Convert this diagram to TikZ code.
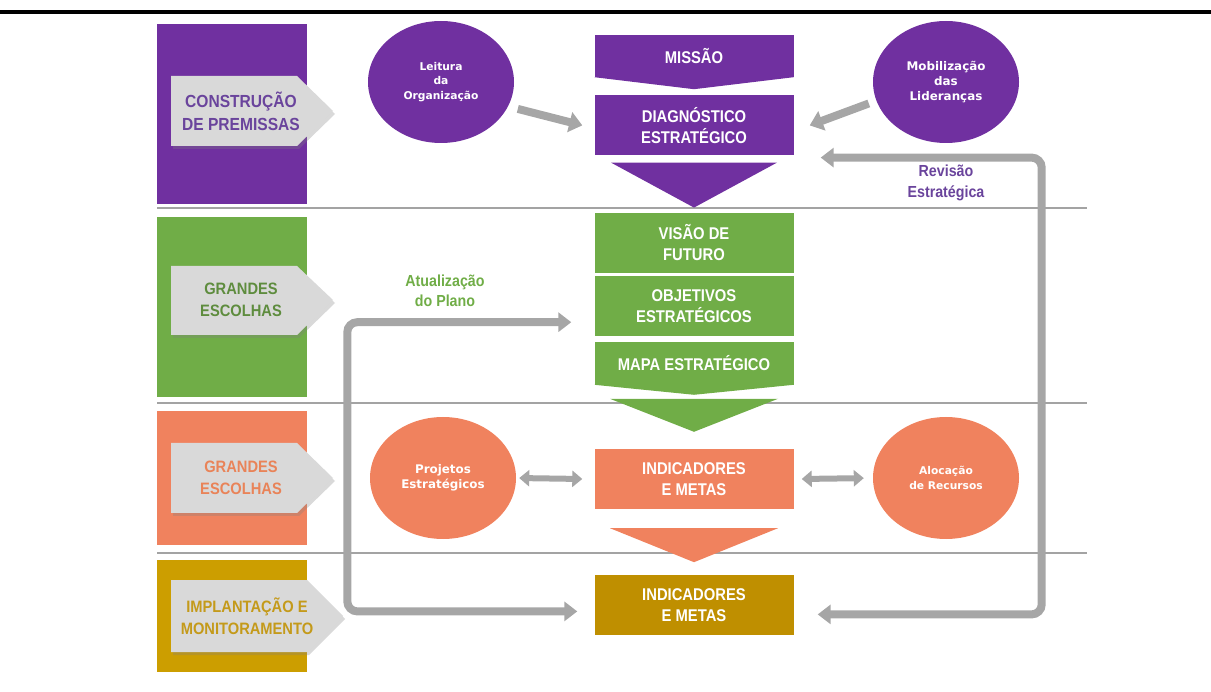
\documentclass[tikz,border=0pt]{standalone}
\usepackage{fontspec}
\setmainfont{Liberation Sans}
\newfontfamily\narrowsans[FakeStretch=0.89]{Liberation Sans}
\newfontfamily\boxsans[FakeStretch=0.87]{Liberation Sans}
\newfontfamily\roundsans{DejaVu Sans}
\usetikzlibrary{arrows.meta, positioning, shapes.geometric, shadows}

\definecolor{planpurple}{HTML}{7030A0}
\definecolor{plangreen}{HTML}{70AD47}
\definecolor{planorange}{HTML}{F0825E}
\definecolor{plangold}{HTML}{CC9E00}
\definecolor{plangolddark}{HTML}{BF8F00}
\definecolor{tagfill}{HTML}{D9D9D9}
\definecolor{loopgrey}{HTML}{A6A6A6}
\definecolor{rulegrey}{HTML}{A3A3A3}
\definecolor{purpletext}{HTML}{6A449C}
\definecolor{greentext}{HTML}{5E8C3E}
\definecolor{orangetext}{HTML}{E98358}
\definecolor{goldtext}{HTML}{C49A1A}

\tikzstyle{stage}=[inner sep=0pt, minimum width=150pt]
\tikzstyle{stepbox}=[inner sep=0pt, minimum width=199pt, minimum height=60pt, text=white, align=center, font=\boxsans\bfseries\fontsize{17}{21}\selectfont]
\tikzstyle{bubble}=[ellipse, inner sep=0pt, minimum width=146pt, minimum height=122pt, text=white, align=center, font=\roundsans\bfseries\fontsize{10.7}{14.7}\selectfont]
\tikzstyle{bigbubble}=[bubble, font=\roundsans\bfseries\fontsize{11.9}{14.7}\selectfont]
\tikzstyle{tag}=[fill=tagfill, drop shadow={shadow xshift=2pt, shadow yshift=-3pt, opacity=.3}]
\tikzstyle{tagtext}=[align=center, font=\narrowsans\bfseries\fontsize{16.5}{21.5}\selectfont]
\tikzstyle{note}=[align=center, font=\narrowsans\bfseries\fontsize{16}{20.5}\selectfont]
\tikzstyle{push}=[loopgrey, line width=8pt, -{Triangle[length=13pt,width=20pt]}]
\tikzstyle{swap}=[loopgrey, line width=6pt, {Triangle[length=10pt,width=16pt]}-{Triangle[length=10pt,width=16pt]}]
\tikzstyle{flow}=[loopgrey, line width=8pt, rounded corners=10pt, {Triangle[length=13pt,width=19pt]}-{Triangle[length=13pt,width=19pt]}]

\begin{document}
\begin{tikzpicture}[x=1pt, y=-1pt]
  \useasboundingbox (0,0) rectangle (1211,692);
  \draw[line width=4pt] (0,12) -- (1211,12);

  % separators between the stages
  \draw[rulegrey, line width=2pt] (157,208) -- (1087,208);
  \draw[rulegrey, line width=2pt] (157,403) -- (1087,403);
  \draw[rulegrey, line width=2pt] (157,553) -- (1087,553);

  % stage blocks and their tags
  \node[stage, fill=planpurple, minimum height=180pt] (premissas) at (232,114) {};
  \node[stage, fill=plangreen, minimum height=180pt] (escolhas) at (232,307) {};
  \node[stage, fill=planorange, minimum height=134pt] (desdobramento) at (232,478) {};
  \node[stage, fill=plangold, minimum height=112pt] (implantacao) at (232,616) {};
  \fill[tag] (171,76) -- (297,76) -- (333,111) -- (297,146) -- (171,146) -- cycle;
  \fill[tag] (171,266) -- (297,266) -- (333,300) -- (297,335) -- (171,335) -- cycle;
  \fill[tag] (171,443) -- (297,443) -- (333,478) -- (297,513) -- (171,513) -- cycle;
  \fill[tag] (171,580) -- (307,580) -- (343,616) -- (307,652) -- (171,652) -- cycle;
  \node[tagtext, text=purpletext, font=\narrowsans\bfseries\fontsize{17.5}{23}\selectfont] (premissastag) at (241,111) {CONSTRUÇÃO\\DE PREMISSAS};
  \node[tagtext, text=greentext] (escolhastag) at (241,300) {GRANDES\\ESCOLHAS};
  \node[tagtext, text=orangetext] (desdobramentotag) at (241,478) {GRANDES\\ESCOLHAS};
  \node[tagtext, text=goldtext] (implantacaotag) at (247,616) {IMPLANTAÇÃO E\\MONITORAMENTO};

  % central column
  \node[stepbox, fill=planpurple, minimum height=42pt] (missao) at (694,56) {MISSÃO};
  \node[stepbox, fill=planpurple, below=18pt of missao] (diagnostico) {DIAGNÓSTICO\\ESTRATÉGICO};
  \node[stepbox, fill=plangreen, below=57pt of diagnostico] (visao) {VISÃO DE\\FUTURO};
  \node[stepbox, fill=plangreen, below=3pt of visao] (objetivos) {OBJETIVOS\\ESTRATÉGICOS};
  \node[stepbox, fill=plangreen, minimum height=43pt, below=5pt of objetivos] (mapa) {MAPA ESTRATÉGICO};
  \node[stepbox, fill=planorange, below=64pt of mapa] (metas) {INDICADORES\\E METAS};
  \node[stepbox, fill=plangolddark, below=66pt of metas] (controle) {INDICADORES\\E METAS};
  \fill[planpurple] (missao.south west) -- ([yshift=-12pt]missao.south) -- (missao.south east) -- cycle;
  \fill[plangreen] (mapa.south west) -- ([yshift=-10pt]mapa.south) -- (mapa.south east) -- cycle;
  \fill[planpurple] ([xshift=-83pt,yshift=-7pt]diagnostico.south) -- ([xshift=83pt,yshift=-7pt]diagnostico.south) -- ([yshift=-52pt]diagnostico.south) -- cycle;
  \fill[plangreen] ([xshift=-84pt,yshift=-14pt]mapa.south) -- ([xshift=84pt,yshift=-14pt]mapa.south) -- ([yshift=-47pt]mapa.south) -- cycle;
  \fill[planorange] ([xshift=-84pt,yshift=-19pt]metas.south) -- ([xshift=84pt,yshift=-19pt]metas.south) -- ([yshift=-53pt]metas.south) -- cycle;

  % inputs on both sides
  \node[bubble, fill=planpurple] (leitura) at (441,82) {Leitura\\da\\Organização};
  \node[bigbubble, fill=planpurple] (mobilizacao) at (946,82) {Mobilização\\das\\Lideranças};
  \node[bigbubble, fill=planorange] (projetos) at (443,478) {Projetos\\Estratégicos};
  \node[bubble, fill=planorange] (alocacao) at (946,478) {Alocação\\de Recursos};
  \draw[push, shorten <=10pt] (leitura.-20) -- ([xshift=-12pt]diagnostico.west);
  \draw[push, shorten <=8pt] (mobilizacao.195) -- ([xshift=16pt]diagnostico.east);
  \draw[swap, shorten <=3pt] (projetos.east) -- ([xshift=-12pt]metas.west);
  \draw[swap, shorten >=9pt] ([xshift=8pt]metas.east) -- (alocacao.west);

  % feedback loops
  \draw[flow] ([xshift=27pt,yshift=-2pt]diagnostico.south east) -- ++(221,0) |- ([xshift=24pt,yshift=-9pt]controle.east);
  \draw[flow] ([xshift=-23pt,yshift=-16pt]objetivos.west) -- ++(-224,0) |- ([xshift=-17pt,yshift=-6pt]controle.west);
  \node[note, text=purpletext] (revisao) at (946,183) {Revisão\\Estratégica};
  \node[note, text=plangreen] (atualizacao) at (445,291) {Atualização\\do Plano};
\end{tikzpicture}
\end{document}
